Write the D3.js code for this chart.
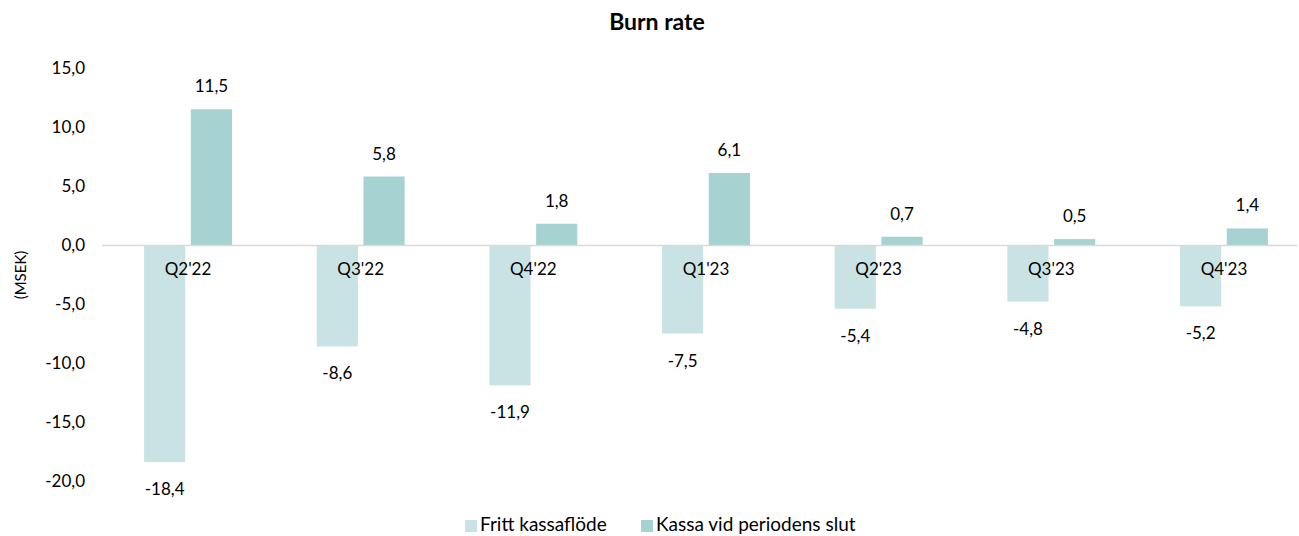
<!DOCTYPE html>
<html>
<head>
<meta charset="utf-8">
<script src="https://cdn.jsdelivr.net/npm/d3@7"></script>
<style>
  body { margin: 0; background: #fff; }
  svg { font-family: Lato, "Open Sans", sans-serif; }
</style>
</head>
<body>
<div id="chart"></div>
<script>
// data
const quarters = ["Q2'22", "Q3'22", "Q4'22", "Q1'23", "Q2'23", "Q3'23", "Q4'23"];
const frittKassaflode = [-18.4, -8.6, -11.9, -7.5, -5.4, -4.8, -5.2];
const kassaSlut = [11.5, 5.8, 1.8, 6.1, 0.7, 0.5, 1.4];
const seriesNames = ["Fritt kassaflöde", "Kassa vid periodens slut"];
const yTicks = [15, 10, 5, 0, -5, -10, -15, -20];

const width = 1299, height = 536;
const colors = ["#c9e3e4", "#a7d2d2"];
const fmt = v => d3.format(".1f")(v).replace(".", ",").replace("−", "-");

const svg = d3.select("#chart").append("svg")
  .attr("width", width)
  .attr("height", height);

// scales
const x = d3.scaleBand().domain(quarters).range([101.7, 1310.3]);
const y = d3.scaleLinear().domain([-20, 15]).range([481, 68]);
const barW = 38.7, gap = 10.5;
const x1 = d3.scaleBand().domain([0, 1]).range([-(barW + gap / 2), barW + gap / 2]).paddingInner(gap / (2 * barW + gap));

// title
svg.append("text")
  .text("Burn rate")
  .attr("x", 657).attr("y", 30)
  .attr("text-anchor", "middle")
  .style("font-size", "23px")
  .style("font-weight", "bold")
  .attr("fill", "#000");

// y tick labels
svg.selectAll(".ytick").data(yTicks).enter().append("text")
  .attr("class", "ytick")
  .text(d => fmt(d))
  .attr("x", 85)
  .attr("y", d => y(d) + 6)
  .attr("text-anchor", "end")
  .style("font-size", "17px")
  .attr("fill", "#000");

// axis title
svg.append("text")
  .text("(MSEK)")
  .attr("transform", "translate(26,275) rotate(-90)")
  .attr("text-anchor", "middle")
  .style("font-size", "15px")
  .attr("fill", "#000");

const data = quarters.map((q, i) => ({ q: q, vals: [frittKassaflode[i], kassaSlut[i]] }));

const groups = svg.selectAll(".grp").data(data).enter().append("g")
  .attr("class", "grp")
  .attr("transform", d => "translate(" + (x(d.q) + x.bandwidth() / 2) + ",0)");

groups.selectAll("rect").data(d => d.vals).enter().append("rect")
  .attr("x", (d, i) => x1(i))
  .attr("width", x1.bandwidth())
  .attr("y", d => y(Math.max(0, d)))
  .attr("height", d => Math.abs(y(d) - y(0)))
  .attr("fill", (d, i) => colors[i]);

// value labels
groups.selectAll(".vlab").data(d => d.vals).enter().append("text")
  .attr("class", "vlab")
  .text(d => fmt(d))
  .attr("x", (d, i) => x1(i) + x1.bandwidth() / 2)
  .attr("y", d => d >= 0 ? y(d) - 17 : y(d) + 33)
  .attr("text-anchor", "middle")
  .style("font-size", "17px")
  .attr("fill", "#000");

// zero line
svg.append("line")
  .attr("x1", 102).attr("x2", 1297)
  .attr("y1", y(0) + 0.5).attr("y2", y(0) + 0.5)
  .attr("stroke", "#d9d9d9")
  .attr("stroke-width", 1.5);

// category labels
svg.selectAll(".xlab").data(quarters).enter().append("text")
  .attr("class", "xlab")
  .text(d => d)
  .attr("x", d => x(d) + x.bandwidth() / 2)
  .attr("y", y(0) + 30)
  .attr("text-anchor", "middle")
  .style("font-size", "17px")
  .attr("fill", "#000");

// legend
const legX = [465, 641];
seriesNames.forEach((name, i) => {
  svg.append("rect")
    .attr("x", legX[i]).attr("y", 520)
    .attr("width", 12).attr("height", 12)
    .attr("fill", colors[i]);
  svg.append("text")
    .text(name)
    .attr("x", legX[i] + 15).attr("y", 531)
    .style("font-size", "19px")
    .attr("fill", "#000");
});
</script>
</body>
</html>
